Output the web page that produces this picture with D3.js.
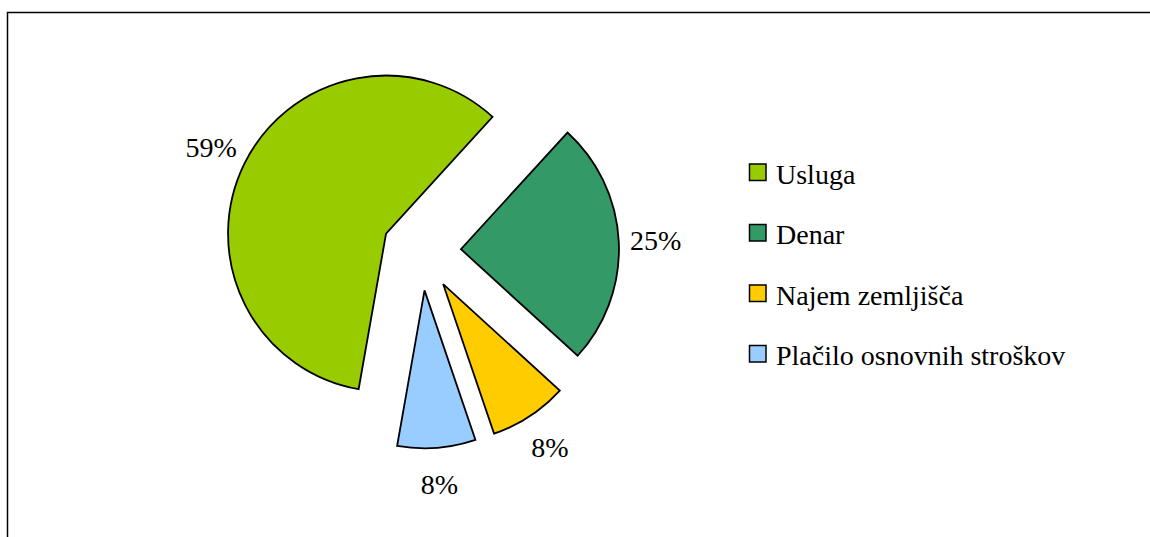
<!DOCTYPE html>
<html>
<head>
<meta charset="utf-8">
<script src="https://cdn.jsdelivr.net/npm/d3@7"></script>
<style>
  html, body { margin: 0; padding: 0; background: #fff; overflow: hidden; }
  svg { display: block; }
</style>
</head>
<body>
<svg id="chart"></svg>
<script>
// chart data
const categories = ["Usluga", "Denar", "Najem zemljišča", "Plačilo osnovnih stroškov"];
const values = [59, 25, 8, 8];
const labels = ["59%", "25%", "8%", "8%"];
const colors = ["#99CC00", "#339966", "#FFCC00", "#99CCFF"];

const width = 1150, height = 537;
const font = "Liberation Serif";

const svg = d3.select("#chart")
              .attr("width", width)
              .attr("height", height);

// chart area border: only its left and top edges are inside the window
svg.append("path")
   .attr("d", "M7.5,537V12.5H1150")
   .attr("fill", "none")
   .attr("stroke", "#000")
   .attr("stroke-width", 1.5);

const cx = 421.5, cy = 251, radius = 158, explode = 39.5;
const start = 190 * Math.PI / 180; // first slice angle

const pie = d3.pie()
              .sort(null)
              .startAngle(start)
              .endAngle(start + 2 * Math.PI);
const arcs = pie(values);
const arc = d3.arc().innerRadius(0).outerRadius(radius);

// offset along the middle of a slice
const mid = d => (d.startAngle + d.endAngle) / 2;
const off = (d, r) => [Math.sin(mid(d)) * r, -Math.cos(mid(d)) * r];

const g = svg.append("g").attr("transform", `translate(${cx},${cy})`);

g.selectAll(".slice")
 .data(arcs)
 .enter()
 .append("path")
 .attr("class", "slice")
 .attr("transform", d => `translate(${off(d, explode)})`)
 .attr("d", arc)
 .attr("fill", (d, i) => colors[i])
 .attr("stroke", "#000")
 .attr("stroke-width", 1.8)
 .attr("stroke-linejoin", "miter");

// percentage labels outside each slice
const labelR = explode + 195;
g.selectAll(".lbl")
 .data(arcs)
 .enter()
 .append("text")
 .attr("class", "lbl")
 .attr("x", d => off(d, labelR)[0])
 .attr("y", d => off(d, labelR)[1])
 .attr("text-anchor", "middle")
 .attr("dominant-baseline", "central")
 .attr("font-family", font)
 .attr("font-size", 28)
 .text((d, i) => labels[i]);

// legend, positioned by text baseline
const legendY = d3.scalePoint()
                  .domain(categories)
                  .range([183.5, 365]);

const item = svg.append("g")
                .selectAll(".item")
                .data(categories)
                .enter()
                .append("g")
                .attr("transform", d => `translate(749,${legendY(d)})`);

item.append("rect")
    .attr("x", 0.5).attr("y", -19.5)
    .attr("width", 16.5).attr("height", 16.5)
    .attr("fill", (d, i) => colors[i])
    .attr("stroke", "#000")
    .attr("stroke-width", 1.5);

item.append("text")
    .attr("x", 27)
    .attr("y", 0)
    .attr("font-family", font)
    .attr("font-size", 28)
    .text(d => d);
</script>
</body>
</html>
